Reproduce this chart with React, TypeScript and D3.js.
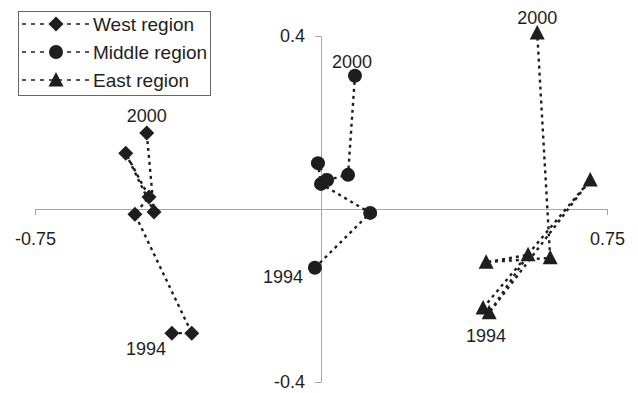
import React, { useEffect, useRef } from "react";
import * as d3 from "d3";

// years run 1994..2000 for every region
const years = [1994, 1995, 1996, 1997, 1998, 1999, 2000];

const westX = [-0.391, -0.339, -0.488, -0.451, -0.512, -0.438, -0.457];
const westY = [-0.287, -0.287, -0.012, 0.028, 0.129, -0.007, 0.176];

const middleX = [-0.016, 0.129, 0.0, -0.008, 0.016, 0.071, 0.089];
const middleY = [-0.136, -0.009, 0.058, 0.106, 0.067, 0.079, 0.308];

const eastX = [0.425, 0.706, 0.441, 0.543, 0.433, 0.601, 0.567];
const eastY = [-0.229, 0.067, -0.24, -0.106, -0.123, -0.113, 0.407];

const regionNames = ["West region", "Middle region", "East region"];
const markerTypes = ["diamond", "circle", "triangle"];

const xTicks = [-0.75, 0.75];
const yTicks = [-0.4, 0.4];
const yearLabels = ["1994", "2000"];

const INK = "#1e1e1e";
const AXIS = "#a6a6a6";
const FONT = "'Liberation Sans', Arial, sans-serif";

function markerPath(type: string) {
  if (type === "diamond") return "M0,-7.5L7.5,0L0,7.5L-7.5,0Z";
  if (type === "triangle") return "M0,-8L7.5,6.5L-7.5,6.5Z";
  return d3.symbol(d3.symbolCircle, Math.PI * 7 * 7)() as string;
}

export default function App() {
  const svgRef = useRef<SVGSVGElement>(null);

  useEffect(() => {
    const svg = d3.select(svgRef.current);
    svg.selectAll("*").remove();

    const x = d3.scaleLinear().domain([-0.75, 0.75]).range([35, 607]);
    const y = d3.scaleLinear().domain([-0.4, 0.4]).range([382, 36]);

    // x axis through y = 0
    const gx = svg
      .append("g")
      .attr("transform", `translate(0,${y(0)})`)
      .call(
        d3
          .axisBottom(x)
          .tickValues(xTicks)
          .tickSizeInner(6)
          .tickSizeOuter(0)
          .tickPadding(17)
          .tickFormat((d) => String(d))
      );
    // y axis through x = 0
    const gy = svg
      .append("g")
      .attr("transform", `translate(${x(0)},0)`)
      .call(
        d3
          .axisLeft(y)
          .tickValues(yTicks)
          .tickSizeInner(6)
          .tickSizeOuter(0)
          .tickPadding(10)
          .tickFormat((d) => String(d))
      );
    [gx, gy].forEach((g) => {
      g.select(".domain").attr("stroke", AXIS);
      g.selectAll(".tick line").attr("stroke", AXIS);
      g.selectAll(".tick text")
        .attr("fill", INK)
        .style("font-family", FONT)
        .style("font-size", "18px");
    });

    const series = [
      { xs: westX, ys: westY },
      { xs: middleX, ys: middleY },
      { xs: eastX, ys: eastY },
    ];

    const line = d3
      .line<number[]>()
      .x((p) => x(p[0]))
      .y((p) => y(p[1]));

    series.forEach((s, k) => {
      const pts = years.map((_, i) => [s.xs[i], s.ys[i]]);
      svg
        .append("path")
        .attr("d", line(pts))
        .attr("fill", "none")
        .attr("stroke", INK)
        .attr("stroke-width", 2.4)
        .attr("stroke-dasharray", "3,4");

      svg
        .append("g")
        .selectAll("path")
        .data(pts)
        .enter()
        .append("path")
        .attr("d", markerPath(markerTypes[k]))
        .attr("transform", (d) => `translate(${x(d[0])},${y(d[1])})`)
        .attr("fill", INK);
    });

    // year annotations
    const ann = [
      { text: yearLabels[1], x: westX[6], y: westY[6], dx: 0, dy: -11 },
      { text: yearLabels[0], x: westX[0], y: westY[0], dx: -26, dy: 22 },
      { text: yearLabels[1], x: middleX[6], y: middleY[6], dx: -3, dy: -8 },
      { text: yearLabels[0], x: middleX[0], y: middleY[0], dx: -32, dy: 15 },
      { text: yearLabels[1], x: eastX[6], y: eastY[6], dx: 0, dy: -9 },
      { text: yearLabels[0], x: eastX[0], y: eastY[0], dx: 3, dy: 34 },
    ];
    svg
      .append("g")
      .selectAll("text")
      .data(ann)
      .enter()
      .append("text")
      .attr("x", (d) => x(d.x) + d.dx)
      .attr("y", (d) => y(d.y) + d.dy)
      .attr("text-anchor", "middle")
      .attr("fill", INK)
      .style("font-family", FONT)
      .style("font-size", "18px")
      .text((d) => d.text);

    // legend
    const lg = svg.append("g");
    lg.append("rect")
      .attr("x", 18.5)
      .attr("y", 11.5)
      .attr("width", 192)
      .attr("height", 84)
      .attr("fill", "white")
      .attr("stroke", "#666")
      .attr("stroke-width", 1);
    regionNames.forEach((name, k) => {
      const cy = 24 + k * 28;
      lg.append("line")
        .attr("x1", 22)
        .attr("x2", 91)
        .attr("y1", cy)
        .attr("y2", cy)
        .attr("stroke", INK)
        .attr("stroke-width", 1.6)
        .attr("stroke-dasharray", "4,5");
      lg.append("path")
        .attr("d", markerPath(markerTypes[k]))
        .attr("transform", `translate(56,${cy})`)
        .attr("fill", INK);
      lg.append("text")
        .attr("x", 93)
        .attr("y", cy + 7)
        .attr("fill", INK)
        .style("font-family", FONT)
        .style("font-size", "19px")
        .text(name);
    });
  }, []);

  return (
    <svg
      ref={svgRef}
      width={638}
      height={393}
      style={{ position: "absolute", left: 0, top: 0, background: "white" }}
    />
  );
}
